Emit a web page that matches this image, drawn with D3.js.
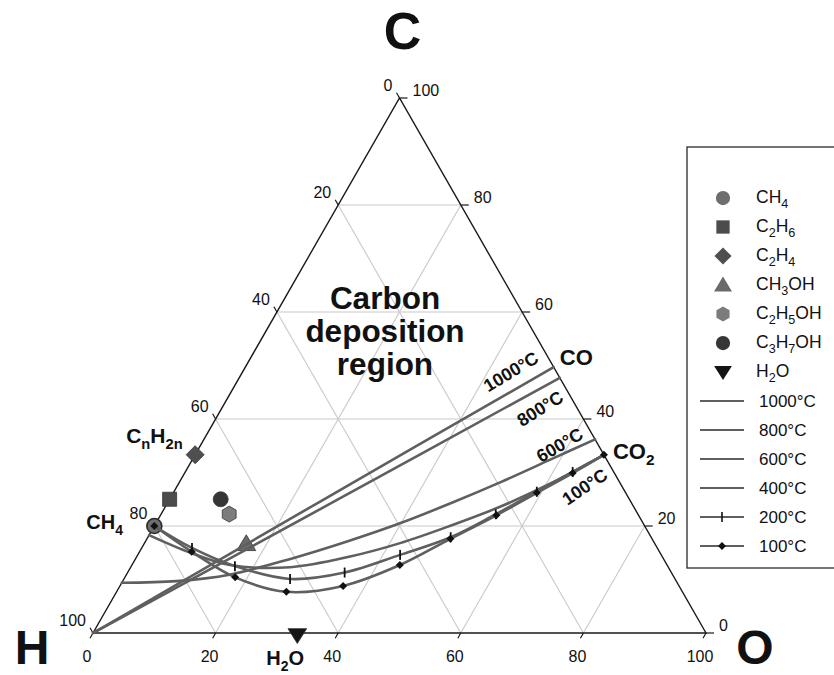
<!DOCTYPE html>
<html>
<head>
<meta charset="utf-8">
<script src="https://cdn.jsdelivr.net/npm/d3@7"></script>
<style>
  html, body { margin: 0; padding: 0; background: #fff; }
  svg { display: block; }
  text { font-family: "Liberation Sans", Arial, Helvetica, sans-serif; fill: #111; }
</style>
</head>
<body>
<svg id="chart" width="834" height="675"></svg>
<script>
// Atomic percentages: O along the base, C toward the apex, H is the remainder.
const compoundNames = ["CH_4", "C_2H_6", "C_2H_4", "CH_3OH", "C_2H_5OH", "C_3H_7OH", "H_2O"];
const compoundO = [0, 0, 0, 16.67, 11.11, 8.33, 33.33];
const compoundC = [20, 25, 33.33, 16.67, 22.22, 25, 0];
const compoundShapes = ["circle", "square", "diamond", "triangle", "hexagon", "circle", "triangleDown"];

// Carbon deposition boundaries as [O %, C %] pairs
const temperatureLabels = ["1000°C", "800°C", "600°C", "400°C", "200°C", "100°C"];
const boundary1000 = [[0, 0], [25.1, 24.9], [50.3, 49.7]];
const boundary800 = [[0, 0], [26.2, 23.8], [52.3, 47.7]];
const boundary600 = [[0, 9.4], [8.8, 9.7], [16.8, 10.9], [25.4, 13.9], [33.1, 17.2], [40, 20.6], [46.3, 24.3], [52.4, 28.2], [58.4, 32.4], [63.8, 36.2]];
const boundary400 = [[0, 18.3], [8.4, 15.0], [16.0, 12.7], [26.0, 12.3], [34.8, 14.3], [41.7, 16.8], [48.2, 20.0], [54.6, 23.6], [60.6, 27.9], [66.7, 33.3]];
const boundary200 = [[0, 20], [8.2, 15.9], [16.9, 12.5], [27.1, 10.1], [35.4, 11.3], [42.8, 14.6], [49.4, 17.9], [54.6, 22.2], [59.2, 26.4], [63.2, 30.1], [66.7, 33.3]];
const boundary100 = [[0, 20], [8.5, 15.2], [18.0, 10.4], [27.7, 7.7], [36.4, 8.8], [43.7, 12.7], [49.5, 17.6], [54.8, 22.0], [59.3, 26.2], [63.3, 29.9], [66.7, 33.3]];

const tickValues = [0, 20, 40, 60, 80, 100];
const gridValues = [20, 40, 60, 80];

const boundaries = [boundary1000, boundary800, boundary600, boundary400, boundary200, boundary100];
const boundaryMarkers = [null, null, null, null, "tick", "diamond"];

const compoundFill = ["#6e6e6e", "#4c4c4c", "#4f4f4f", "#6a6a6a", "#7c7c7c", "#363636", "#141414"];
const curveColor = "#5f5f5f";

const svg = d3.select("#chart");

// Ternary -> screen through two linear scales (x: O + C/2, y: C)
const sx = d3.scaleLinear().domain([0, 1]).range([93, 706]);
const sy = d3.scaleLinear().domain([0, 1]).range([633, 98]);
const px = (o, c) => sx(o / 100 + c / 200);
const py = (o, c) => sy(c / 100);

// Text with subscripts written as X_2 or X_{2n}
function rich(sel, str, subScale = 0.7, drop = 0.28) {
  const parts = str.split(/(_\{[^}]*\}|_.)/).filter(s => s.length);
  const base = parseFloat(sel.attr("font-size"));
  let shifted = 0;
  parts.forEach(p => {
    if (p[0] === "_") {
      const s = p[1] === "{" ? p.slice(2, -1) : p.slice(1);
      const d = base * drop;
      sel.append("tspan").attr("font-size", base * subScale).attr("dy", d - shifted).text(s);
      shifted = d;
    } else {
      sel.append("tspan").attr("dy", -shifted).text(p);
      shifted = 0;
    }
  });
  return sel;
}

function shapePath(type, s) {
  if (type === "circle") return d3.symbol(d3.symbolCircle, Math.PI * s * s)();
  if (type === "square") return `M${-s},${-s}H${s}V${s}H${-s}Z`;
  if (type === "diamond") return `M0,${-s}L${s},0L0,${s}L${-s},0Z`;
  if (type === "triangle") return `M0,${-s}L${s * 1.05},${s * 0.75}L${-s * 1.05},${s * 0.75}Z`;
  if (type === "triangleDown") return `M0,${s}L${s * 1.1},${-s * 0.75}L${-s * 1.1},${-s * 0.75}Z`;
  if (type === "hexagon") {
    const pts = d3.range(6).map(i => {
      const a = Math.PI / 3 * i - Math.PI / 2;
      return [s * Math.cos(a), s * Math.sin(a)];
    });
    return "M" + pts.map(p => p.join(",")).join("L") + "Z";
  }
}
const shapeSize = { circle: 7.5, square: 7, diamond: 9, triangle: 9, hexagon: 8, triangleDown: 8.5 };

// ---- grid ----
const grid = svg.append("g").attr("stroke", "#c9c9c9").attr("stroke-width", 1.1).attr("fill", "none");
gridValues.forEach(v => {
  // constant C (horizontal)
  grid.append("line").attr("x1", px(0, v)).attr("y1", py(0, v)).attr("x2", px(100 - v, v)).attr("y2", py(100 - v, v));
  // constant O
  grid.append("line").attr("x1", px(v, 0)).attr("y1", py(v, 0)).attr("x2", px(v, 100 - v)).attr("y2", py(v, 100 - v));
  // constant H
  grid.append("line").attr("x1", px(0, v)).attr("y1", py(0, v)).attr("x2", px(v, 0)).attr("y2", py(v, 0));
});

// ---- frame ----
svg.append("path")
  .attr("d", `M${px(0, 0)},${py(0, 0)}L${px(100, 0)},${py(100, 0)}L${px(0, 100)},${py(0, 100)}Z`)
  .attr("fill", "none").attr("stroke", "#1a1a1a").attr("stroke-width", 1.4);

// ---- ticks and tick labels ----
// unit vector along the H -> C side
const ex = px(0, 100) - px(0, 0), ey = py(0, 100) - py(0, 0);
const el = Math.hypot(ex, ey);
const ux = ex / el, uy = ey / el;
const tl = 6;
const ticks = svg.append("g").attr("stroke", "#1a1a1a").attr("stroke-width", 1.2);
const tickText = svg.append("g").attr("font-size", 16);
tickValues.forEach(v => {
  // base: O %
  const bx = px(v, 0), by = py(v, 0);
  ticks.append("line").attr("x1", bx).attr("y1", by).attr("x2", bx - ux * tl).attr("y2", by - uy * tl);
  tickText.append("text").attr("x", bx - 6).attr("y", by + 29).attr("text-anchor", "middle").text(v);
  // right side: C %
  const rx = px(100 - v, v), ry = py(100 - v, v);
  ticks.append("line").attr("x1", rx).attr("y1", ry).attr("x2", rx + tl + 2).attr("y2", ry);
  tickText.append("text").attr("x", rx + 13).attr("y", ry - 2).text(v);
  // left side: H %
  const lx = px(0, 100 - v), ly = py(0, 100 - v);
  ticks.append("line").attr("x1", lx).attr("y1", ly).attr("x2", lx - ux * tl).attr("y2", ly + uy * tl);
  tickText.append("text").attr("x", lx - 7).attr("y", ly - 7).attr("text-anchor", "end").text(v);
});

// ---- compound markers ----
const marks = svg.append("g");
compoundNames.forEach((n, i) => {
  const t = compoundShapes[i];
  marks.append("path")
    .attr("d", shapePath(t, shapeSize[t]))
    .attr("transform", `translate(${px(compoundO[i], compoundC[i])},${py(compoundO[i], compoundC[i]) + (t === "triangleDown" ? 2 : 0)})`)
    .attr("fill", compoundFill[i])
    .attr("stroke", i === 0 ? "#2b2b2b" : "#333")
    .attr("stroke-width", i === 0 ? 1.6 : 0.8);
});

// ---- boundary curves ----
const line = d3.line()
  .x(d => px(d[0], d[1]))
  .y(d => py(d[0], d[1]))
  .curve(d3.curveCatmullRom.alpha(0.5));
const curves = svg.append("g");
boundaries.forEach(b => {
  curves.append("path").attr("d", line(b))
    .attr("fill", "none").attr("stroke", curveColor).attr("stroke-width", 2.6)
    .attr("stroke-linecap", "round");
});
boundaries.forEach((b, i) => {
  const m = boundaryMarkers[i];
  if (!m) return;
  const pts = m === "tick" ? b.slice(1, -1) : b;
  pts.forEach(d => {
    const x = px(d[0], d[1]), y = py(d[0], d[1]);
    if (m === "tick") {
      curves.append("line").attr("x1", x).attr("x2", x).attr("y1", y - 5).attr("y2", y + 5)
        .attr("stroke", "#111").attr("stroke-width", 1.8);
    } else {
      curves.append("path").attr("d", shapePath("diamond", 4)).attr("transform", `translate(${x},${y})`)
        .attr("fill", "#111");
    }
  });
});

// ---- temperature labels along the curves ----
const tempAnn = [
  { text: "1000°C", o: 43.8, c: 48.8, rot: -31 },
  { text: "800°C", o: 52.0, c: 41.9, rot: -32 },
  { text: "600°C", o: 58.6, c: 35.1, rot: -30 },
  { text: "100°C", o: 66.6, c: 27.3, rot: -34 }
];
tempAnn.forEach(a => {
  const x = px(a.o, a.c), y = py(a.o, a.c);
  svg.append("text").attr("x", x).attr("y", y).attr("transform", `rotate(${a.rot},${x},${y})`)
    .attr("text-anchor", "middle").attr("dominant-baseline", "central")
    .attr("font-size", 18).attr("font-weight", "bold").text(a.text);
});

// ---- species labels ----
function label(str, x, y, size, anchor = "start") {
  const t = svg.append("text").attr("x", x).attr("y", y).attr("font-size", size)
    .attr("font-weight", "bold").attr("text-anchor", anchor);
  return rich(t, str);
}
label("CO", px(50, 50) + 7, py(50, 50) - 1, 22);
label("CO_2", px(66.7, 33.3) + 9, py(66.7, 33.3) + 4, 22);
label("C_nH_{2n}", px(0, 33.33) - 69, py(0, 33.33) - 12, 21);
label("CH_4", px(0, 20) - 68, py(0, 20) + 3, 20);
label("H_2O", px(33.33, 0) - 31, py(33.33, 0) + 32, 20);

// Corner element symbols
svg.append("text").attr("x", px(0, 100) + 3).attr("y", 49).attr("text-anchor", "middle")
  .attr("font-size", 52).attr("font-weight", "bold").text("C");
svg.append("text").attr("x", px(0, 0) - 61).attr("y", 664).attr("text-anchor", "middle")
  .attr("font-size", 48).attr("font-weight", "bold").text("H");
svg.append("text").attr("x", px(100, 0) + 49).attr("y", 664).attr("text-anchor", "middle")
  .attr("font-size", 48).attr("font-weight", "bold").text("O");

// Region caption
const cap = svg.append("text").attr("x", 385).attr("y", 309).attr("text-anchor", "middle")
  .attr("font-size", 31.5).attr("font-weight", "bold");
["Carbon", "deposition", "region"].forEach((w, i) => {
  cap.append("tspan").attr("x", 385).attr("dy", i ? 33 : 0).text(w);
});

// ---- legend ----
const lg = svg.append("g");
lg.append("rect").attr("x", 687).attr("y", 147).attr("width", 170).attr("height", 421)
  .attr("fill", "#fff").attr("stroke", "#2a2a2a").attr("stroke-width", 1.3);
const rowY = i => 198 + i * 29;
compoundNames.forEach((n, i) => {
  const t = compoundShapes[i];
  lg.append("path").attr("d", shapePath(t, shapeSize[t] * 0.95))
    .attr("transform", `translate(723,${rowY(i)})`).attr("fill", compoundFill[i]);
  const tx = lg.append("text").attr("x", 756).attr("y", rowY(i) + 5).attr("font-size", 17.5);
  rich(tx, n, 0.72, 0.3);
});
temperatureLabels.forEach((n, j) => {
  const i = j + compoundNames.length;
  const y = rowY(i);
  lg.append("line").attr("x1", 700).attr("x2", 744).attr("y1", y).attr("y2", y)
    .attr("stroke", curveColor).attr("stroke-width", 2);
  if (boundaryMarkers[j] === "tick") {
    lg.append("line").attr("x1", 722).attr("x2", 722).attr("y1", y - 5).attr("y2", y + 5)
      .attr("stroke", "#111").attr("stroke-width", 1.6);
  } else if (boundaryMarkers[j] === "diamond") {
    lg.append("path").attr("d", shapePath("diamond", 4)).attr("transform", `translate(722,${y})`).attr("fill", "#111");
  }
  lg.append("text").attr("x", 759).attr("y", y + 6).attr("font-size", 17).text(n);
});
</script>
</body>
</html>
